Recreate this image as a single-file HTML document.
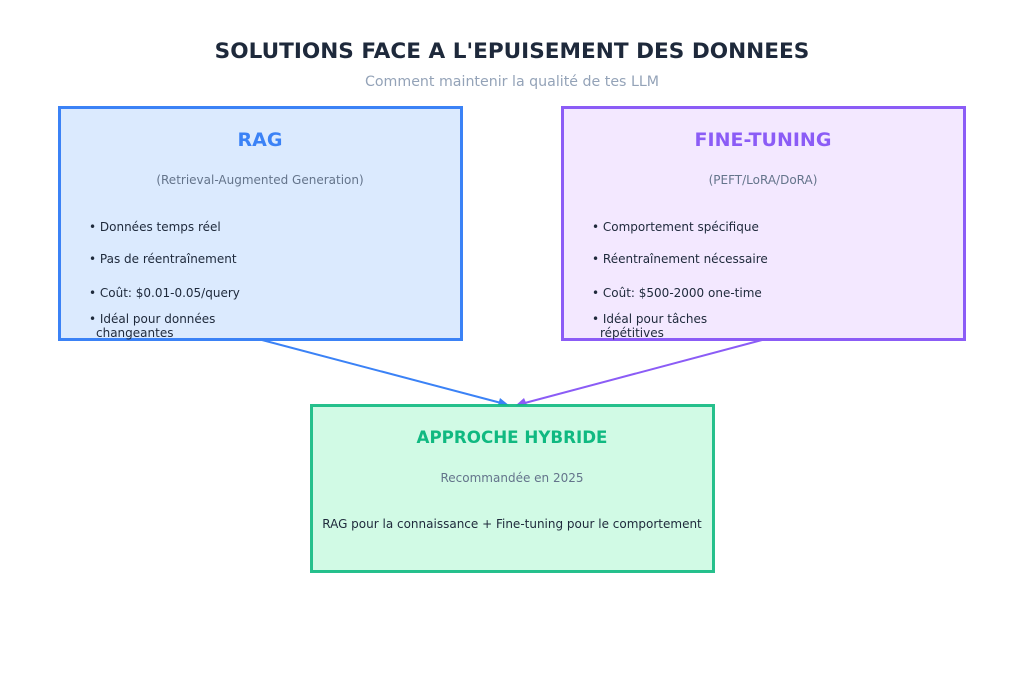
<!DOCTYPE html>
<html><head><meta charset="utf-8"><style>body{margin:0;background:#fff}svg{display:block}text{font-family:"DejaVu Sans","Liberation Sans",sans-serif}</style></head>
<body>
<svg width="1024" height="679" viewBox="0 0 1024 679">
<rect width="1024" height="679" fill="#fff"/>
<text x="512" y="58" text-anchor="middle" font-size="21.6" font-weight="bold" fill="#1e293b">SOLUTIONS FACE A L'EPUISEMENT DES DONNEES</text>
<text x="512" y="86" text-anchor="middle" font-size="14.2" fill="#94a3b8">Comment maintenir la qualité de tes LLM</text>

<rect x="59.5" y="107.5" width="402" height="232" fill="#dbeafe" stroke="#3b82f6" stroke-width="3"/>
<text x="260" y="146" text-anchor="middle" font-size="19" font-weight="bold" fill="#3b82f6">RAG</text>
<text x="260" y="184" text-anchor="middle" font-size="12" fill="#64748b">(Retrieval-Augmented Generation)</text>
<g font-size="12" fill="#1e293b">
<text x="89" y="231">• Données temps réel</text>
<text x="89" y="263">• Pas de réentraînement</text>
<text x="89" y="297">• Coût: $0.01-0.05/query</text>
<text x="89" y="323">• Idéal pour données</text>
<text x="96" y="337">changeantes</text>
</g>

<rect x="562.5" y="107.5" width="402" height="232" fill="#f3e8ff" stroke="#8b5cf6" stroke-width="3"/>
<text x="763" y="146" text-anchor="middle" font-size="19" font-weight="bold" fill="#8b5cf6">FINE-TUNING</text>
<text x="763" y="184" text-anchor="middle" font-size="12" fill="#64748b">(PEFT/LoRA/DoRA)</text>
<g font-size="12" fill="#1e293b">
<text x="592" y="231">• Comportement spécifique</text>
<text x="592" y="263">• Réentraînement nécessaire</text>
<text x="592" y="297">• Coût: $500-2000 one-time</text>
<text x="592" y="323">• Idéal pour tâches</text>
<text x="600" y="337">répétitives</text>
</g>

<line x1="262" y1="340" x2="505" y2="404" stroke="#3b82f6" stroke-width="2"/>
<path d="M510 406 L500 398 L498 405 Z" fill="#3b82f6"/>
<line x1="762" y1="340" x2="521" y2="404" stroke="#8b5cf6" stroke-width="2"/>
<path d="M515 406 L524 398 L527 405 Z" fill="#8b5cf6"/>

<rect x="311.5" y="405.5" width="402" height="166" fill="#d1fae5" stroke="#10b981" stroke-opacity="0.9" stroke-width="3"/>
<text x="512" y="443" text-anchor="middle" font-size="16.7" font-weight="bold" fill="#10b981">APPROCHE HYBRIDE</text>
<text x="512" y="482" text-anchor="middle" font-size="12" fill="#64748b">Recommandée en 2025</text>
<text x="512" y="528" text-anchor="middle" font-size="12" fill="#1e293b">RAG pour la connaissance + Fine-tuning pour le comportement</text>
</svg>
</body></html>
